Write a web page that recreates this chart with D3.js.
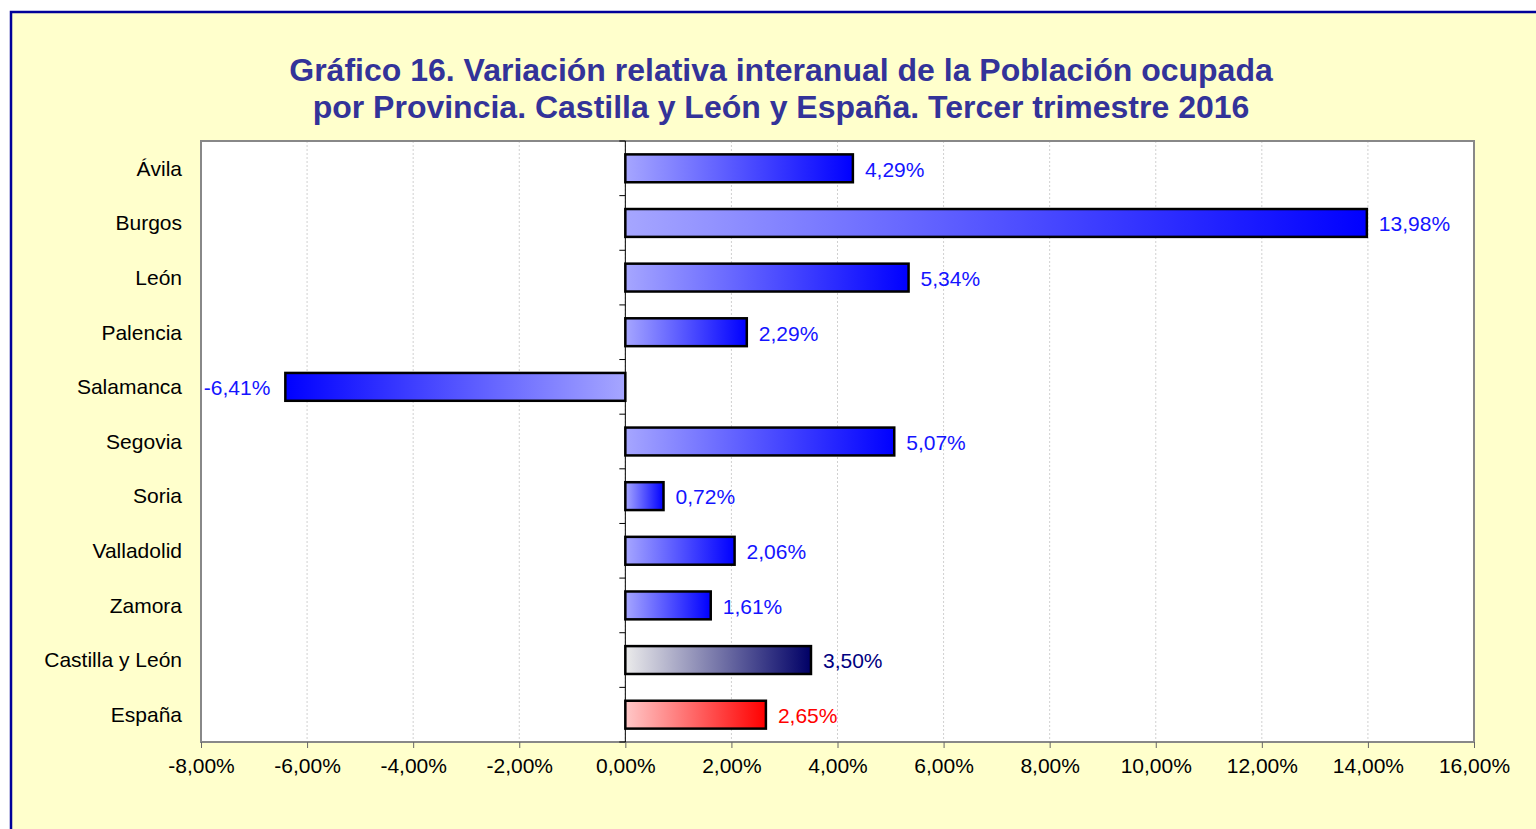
<!DOCTYPE html>
<html>
<head>
<meta charset="utf-8">
<script src="https://cdnjs.cloudflare.com/ajax/libs/d3/7.8.5/d3.min.js"></script>
<style>
  body { margin: 0; background: #ffffff; }
  svg { display: block; font-family: "Liberation Sans", Arial, sans-serif; }
</style>
</head>
<body>
<svg class="chart"></svg>
<script>
// datos del gráfico
var provincias = ["Ávila", "Burgos", "León", "Palencia", "Salamanca", "Segovia",
  "Soria", "Valladolid", "Zamora", "Castilla y León", "España"];
var variacion = [4.29, 13.98, 5.34, 2.29, -6.41, 5.07, 0.72, 2.06, 1.61, 3.5, 2.65];
var tipo = ["prov", "prov", "prov", "prov", "prov", "prov", "prov", "prov", "prov", "cyl", "esp"];
var ticksX = [-8, -6, -4, -2, 0, 2, 4, 6, 8, 10, 12, 14, 16];
var titulo = ["Gráfico 16. Variación relativa interanual de la Población ocupada",
  "por Provincia. Castilla y León y España. Tercer trimestre 2016"];

var width = 1536;
var height = 829;
var plot = { left: 201, right: 1474, top: 141, bottom: 742 };

var svg = d3.select(".chart").attr("width", width).attr("height", height);

// fondo y marco
svg.append("rect")
  .attr("x", 11).attr("y", 12)
  .attr("width", 1600).attr("height", 1000)
  .attr("fill", "#ffffcc")
  .attr("stroke", "#000099")
  .attr("stroke-width", 2.5);

svg.selectAll("text.titulo")
  .data(titulo)
  .enter()
  .append("text")
  .attr("class", "titulo")
  .attr("x", 781)
  .attr("y", function (d, i) { return 81 + i * 37; })
  .attr("text-anchor", "middle")
  .attr("font-size", "32px")
  .attr("font-weight", "bold")
  .attr("fill", "#333399")
  .text(function (d) { return d; });

var x = d3.scaleLinear().domain([-8, 16]).range([plot.left, plot.right]);
var y = d3.scaleBand()
  .domain(provincias)
  .range([plot.top, plot.bottom])
  .paddingInner(0.49)
  .paddingOuter(0.245);

// formato español con guion normal
var fmt = function (v) {
  return d3.format(".2f")(v).replace(".", ",").replace("\u2212", "-") + "%";
};

// gradientes
var colores = {
  prov: ["#a6a6ff", "#0000ff"],
  cyl: ["#ebebeb", "#000066"],
  esp: ["#ffc8c8", "#ff0000"]
};
var colorTexto = { prov: "#1414ff", cyl: "#000080", esp: "#ff0000" };
var defs = svg.append("defs");
Object.keys(colores).forEach(function (k) {
  [["pos", 0, 1], ["neg", 1, 0]].forEach(function (s) {
    var g = defs.append("linearGradient")
      .attr("id", "g-" + k + "-" + s[0])
      .attr("x1", s[1]).attr("x2", s[2])
      .attr("y1", 0).attr("y2", 0);
    g.append("stop").attr("offset", 0).attr("stop-color", colores[k][0]);
    g.append("stop").attr("offset", 1).attr("stop-color", colores[k][1]);
  });
});

// área del gráfico
svg.append("rect")
  .attr("x", plot.left).attr("y", plot.top)
  .attr("width", plot.right - plot.left)
  .attr("height", plot.bottom - plot.top)
  .attr("fill", "#ffffff");

svg.append("g")
  .selectAll("line")
  .data(ticksX.slice(1, -1))
  .enter()
  .append("line")
  .attr("x1", function (d) { return x(d); })
  .attr("x2", function (d) { return x(d); })
  .attr("y1", plot.top)
  .attr("y2", plot.bottom)
  .attr("stroke", "#d0d0d0")
  .attr("stroke-width", 1)
  .attr("stroke-dasharray", "2,2");

svg.append("rect")
  .attr("x", plot.left).attr("y", plot.top)
  .attr("width", plot.right - plot.left)
  .attr("height", plot.bottom - plot.top)
  .attr("fill", "none")
  .attr("stroke", "#888888")
  .attr("stroke-width", 2);

// eje X
var ejeX = svg.append("g")
  .attr("transform", "translate(0," + plot.bottom + ")")
  .call(d3.axisBottom(x).tickValues(ticksX).tickFormat(fmt).tickSize(6).tickPadding(10));
ejeX.select(".domain").remove();
ejeX.selectAll(".tick line").attr("stroke", "#666666");
ejeX.selectAll(".tick text")
  .attr("font-size", "21px")
  .attr("font-family", "Liberation Sans, Arial, sans-serif")
  .attr("fill", "#000000");

// eje de categorías en el cero
var step = y.step();
svg.append("line")
  .attr("x1", x(0)).attr("x2", x(0))
  .attr("y1", plot.top).attr("y2", plot.bottom)
  .attr("stroke", "#000000")
  .attr("stroke-width", 1);
svg.append("g")
  .selectAll("line")
  .data(d3.range(provincias.length + 1))
  .enter()
  .append("line")
  .attr("x1", x(0) - 6).attr("x2", x(0))
  .attr("y1", function (i) { return plot.top + i * step; })
  .attr("y2", function (i) { return plot.top + i * step; })
  .attr("stroke", "#000000")
  .attr("stroke-width", 1);

svg.append("g")
  .selectAll("text")
  .data(provincias)
  .enter()
  .append("text")
  .attr("x", 182)
  .attr("y", function (d) { return y(d) + y.bandwidth() / 2; })
  .attr("dy", "0.35em")
  .attr("text-anchor", "end")
  .attr("font-size", "21px")
  .attr("fill", "#000000")
  .text(function (d) { return d; });

// barras
var barras = svg.append("g")
  .selectAll("g")
  .data(provincias)
  .enter()
  .append("g");

barras.append("rect")
  .attr("x", function (d, i) { return x(Math.min(0, variacion[i])); })
  .attr("y", function (d) { return y(d); })
  .attr("width", function (d, i) { return Math.abs(x(variacion[i]) - x(0)); })
  .attr("height", y.bandwidth())
  .attr("fill", function (d, i) {
    return "url(#g-" + tipo[i] + "-" + (variacion[i] < 0 ? "neg" : "pos") + ")";
  })
  .attr("stroke", "#000000")
  .attr("stroke-width", 2.5);

barras.append("text")
  .attr("x", function (d, i) {
    return variacion[i] < 0 ? x(variacion[i]) - 15 : x(variacion[i]) + 12;
  })
  .attr("y", function (d) { return y(d) + y.bandwidth() / 2 + 1; })
  .attr("dy", "0.35em")
  .attr("text-anchor", function (d, i) { return variacion[i] < 0 ? "end" : "start"; })
  .attr("font-size", "21px")
  .attr("fill", function (d, i) { return colorTexto[tipo[i]]; })
  .text(function (d, i) { return fmt(variacion[i]); });
</script>
</body>
</html>
